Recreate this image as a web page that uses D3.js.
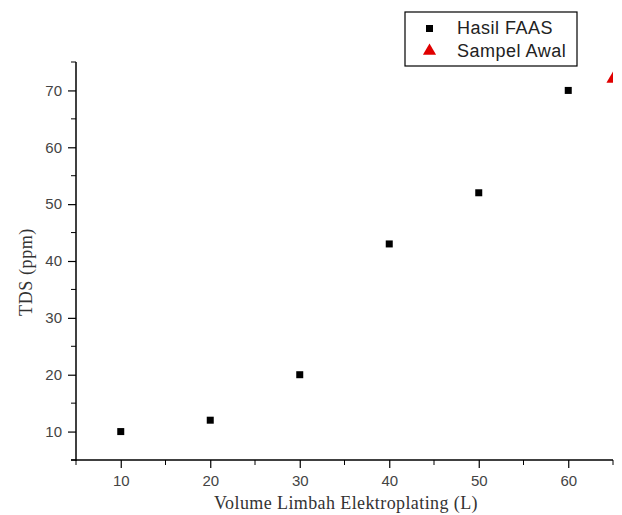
<!DOCTYPE html>
<html>
<head>
<meta charset="utf-8">
<script src="https://cdn.jsdelivr.net/npm/d3@7"></script>
<style>
  body { margin: 0; background: #fff; }
  svg { display: block; }
</style>
</head>
<body>
<svg id="chart" width="622" height="515"></svg>
<script>
// data
const faasVolume = [10, 20, 30, 40, 50, 60];
const faasTds = [10, 12, 20, 43, 52, 70];
const awalVolume = [65];
const awalTds = [72];
const xTicks = [10, 20, 30, 40, 50, 60];
const yTicks = [10, 20, 30, 40, 50, 60, 70];
const legendLabels = ['Hasil FAAS', 'Sampel Awal'];

const svg = d3.select('#chart');
const plotLeft = 76, plotRight = 613, plotTop = 62, plotBottom = 460;

const x = d3.scaleLinear().domain([5, 65]).range([plotLeft, plotRight]);
const y = d3.scaleLinear().domain([5, 75]).range([plotBottom, plotTop]);

svg.append('clipPath').attr('id', 'plot')
  .append('rect').attr('x', plotLeft).attr('y', plotTop - 10)
  .attr('width', plotRight - plotLeft).attr('height', plotBottom - plotTop + 10);

// axes
const xAxis = d3.axisBottom(x).tickValues(xTicks).tickSize(8).tickSizeOuter(0).tickPadding(7);
const yAxis = d3.axisLeft(y).tickValues(yTicks).tickSize(8).tickSizeOuter(0).tickPadding(6);

const gx = svg.append('g').attr('transform', `translate(0,${plotBottom})`).call(xAxis);
const gy = svg.append('g').attr('transform', `translate(${plotLeft},0)`).call(yAxis);

// minor ticks
gx.selectAll('.minor').data(d3.range(5, 66, 10)).enter().append('line')
  .attr('x1', d => x(d)).attr('x2', d => x(d)).attr('y1', 0).attr('y2', 5)
  .attr('stroke', '#000');
gy.selectAll('.minor').data(d3.range(5, 76, 10)).enter().append('line')
  .attr('y1', d => y(d)).attr('y2', d => y(d)).attr('x1', 0).attr('x2', -5)
  .attr('stroke', '#000');

[gx, gy].forEach(g => {
  g.attr('font-size', 15).attr('font-family', 'Liberation Sans, Arial, sans-serif');
  g.select('.domain').attr('stroke', '#000').attr('stroke-width', 1.5);
  g.selectAll('.tick line').attr('stroke', '#000').attr('stroke-width', 1.2);
  g.selectAll('.tick text').attr('fill', '#444');
});
gx.select('.domain').attr('d', `M${plotLeft - 5},0H${plotRight}`);
gy.select('.domain').attr('d', `M0,${plotTop}V${plotBottom + 1}`);

// axis titles
svg.append('text').attr('x', 346).attr('y', 509).attr('text-anchor', 'middle')
  .attr('font-family', 'Liberation Serif, Times New Roman, serif').attr('font-size', 18)
  .attr('fill', '#333').attr('letter-spacing', 0.4)
  .text('Volume Limbah Elektroplating (L)');
svg.append('text').attr('transform', 'translate(32,272) rotate(-90)').attr('text-anchor', 'middle')
  .attr('font-family', 'Liberation Serif, Times New Roman, serif').attr('font-size', 18)
  .attr('fill', '#333').attr('letter-spacing', 0.6)
  .text('TDS (ppm)');

// marks
const plot = svg.append('g').attr('clip-path', 'url(#plot)');
plot.selectAll('rect.faas').data(faasVolume).enter().append('rect')
  .attr('class', 'faas')
  .attr('x', d => x(d) - 3.5).attr('y', (d, i) => y(faasTds[i]) - 3.5)
  .attr('width', 7).attr('height', 7).attr('fill', '#000');

const tri = d3.symbol().type(d3.symbolTriangle).size(75);
plot.selectAll('path.awal').data(awalVolume).enter().append('path')
  .attr('class', 'awal')
  .attr('transform', (d, i) => `translate(${x(d)},${y(awalTds[i])})`)
  .attr('d', tri).attr('fill', '#e00000');

// legend
const lg = svg.append('g');
lg.append('rect').attr('x', 405).attr('y', 12).attr('width', 172).attr('height', 54)
  .attr('fill', '#fff').attr('stroke', '#000').attr('stroke-width', 1.2);
lg.append('rect').attr('x', 426).attr('y', 25).attr('width', 7).attr('height', 7).attr('fill', '#000');
lg.append('path').attr('transform', 'translate(429.5,51)').attr('d', tri).attr('fill', '#e00000');
lg.selectAll('text').data(legendLabels).enter().append('text')
  .attr('x', 457).attr('y', (d, i) => 34 + i * 23)
  .attr('font-family', 'Liberation Sans, Arial, sans-serif').attr('font-size', 18)
  .attr('fill', '#222').attr('letter-spacing', 0.5)
  .text(d => d);
</script>
</body>
</html>
